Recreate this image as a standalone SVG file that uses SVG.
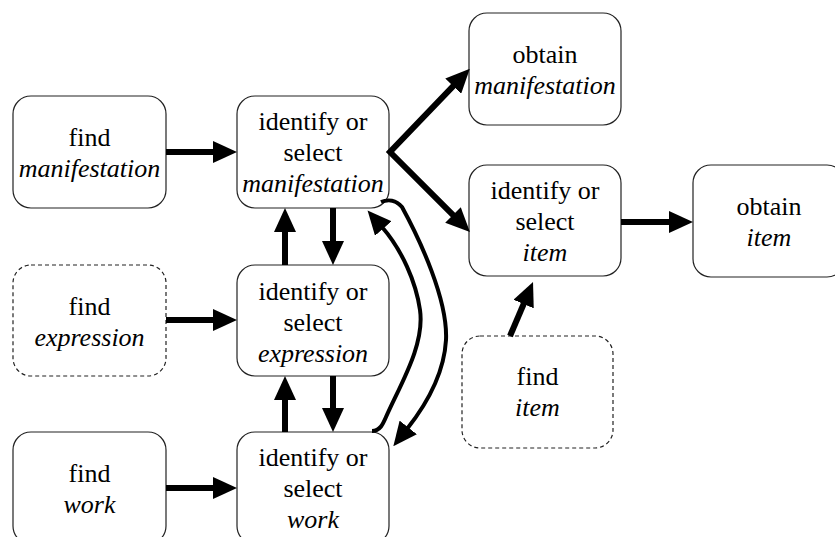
<svg xmlns="http://www.w3.org/2000/svg" width="835" height="537" viewBox="0 0 835 537">
  <defs>
    <style>
      .box { fill: #ffffff; stroke: #222222; stroke-width: 1.2; }
      .dash { stroke-dasharray: 4 3; }
      .lbl { font-family: "Liberation Serif", "Times New Roman", serif; font-size: 26px; fill: #000000; text-anchor: middle; }
      .it { font-style: italic; }
      .arrow { fill: none; stroke: #000000; stroke-width: 6; marker-end: url(#head); }
      .curve { fill: none; stroke: #000000; stroke-width: 4; stroke-linejoin: round; marker-end: url(#head); }
    </style>
    <!-- solid triangular arrowhead, fixed size regardless of stroke width -->
    <marker id="head" markerUnits="userSpaceOnUse" markerWidth="24" markerHeight="22" refX="2" refY="11" orient="auto-start-reverse">
      <path d="M0,0 L24,11 L0,22 Z" fill="#000000"/>
    </marker>
  </defs>

  <rect width="835" height="537" fill="#ffffff"/>

  <!-- left column: find tasks -->
  <g id="find-manifestation">
    <rect class="box" x="13" y="96" width="153" height="112" rx="18"/>
    <text class="lbl" x="89.5" y="146">find</text>
    <text class="lbl it" x="89.5" y="177">manifestation</text>
  </g>
  <g id="find-expression">
    <rect class="box dash" x="13" y="265" width="153" height="111" rx="18"/>
    <text class="lbl" x="89.5" y="315">find</text>
    <text class="lbl it" x="89.5" y="346">expression</text>
  </g>
  <g id="find-work">
    <rect class="box" x="13" y="432" width="153" height="112" rx="18"/>
    <text class="lbl" x="89.5" y="482">find</text>
    <text class="lbl it" x="89.5" y="513">work</text>
  </g>

  <!-- middle column: identify / select tasks -->
  <g id="select-manifestation">
    <rect class="box" x="237" y="96" width="152" height="112" rx="18"/>
    <text class="lbl" x="313" y="130">identify or</text>
    <text class="lbl" x="313" y="161">select</text>
    <text class="lbl it" x="313" y="192">manifestation</text>
  </g>
  <g id="select-expression">
    <rect class="box" x="237" y="265" width="152" height="111" rx="18"/>
    <text class="lbl" x="313" y="300">identify or</text>
    <text class="lbl" x="313" y="331">select</text>
    <text class="lbl it" x="313" y="362">expression</text>
  </g>
  <g id="select-work">
    <rect class="box" x="237" y="432" width="152" height="112" rx="18"/>
    <text class="lbl" x="313" y="466">identify or</text>
    <text class="lbl" x="313" y="497">select</text>
    <text class="lbl it" x="313" y="528">work</text>
  </g>

  <!-- right side: item and obtain tasks -->
  <g id="obtain-manifestation">
    <rect class="box" x="469" y="13" width="152" height="112" rx="18"/>
    <text class="lbl" x="545" y="63">obtain</text>
    <text class="lbl it" x="545" y="94">manifestation</text>
  </g>
  <g id="select-item">
    <rect class="box" x="469" y="165" width="152" height="111" rx="18"/>
    <text class="lbl" x="545" y="199">identify or</text>
    <text class="lbl" x="545" y="230">select</text>
    <text class="lbl it" x="545" y="261">item</text>
  </g>
  <g id="find-item">
    <rect class="box dash" x="462" y="336" width="151" height="112" rx="18"/>
    <text class="lbl" x="537.5" y="385">find</text>
    <text class="lbl it" x="537.5" y="416">item</text>
  </g>
  <g id="obtain-item">
    <rect class="box" x="693" y="165" width="152" height="112" rx="18"/>
    <text class="lbl" x="769" y="215">obtain</text>
    <text class="lbl it" x="769" y="246">item</text>
  </g>

  <!-- connectors -->
  <g id="connectors">
    <line class="arrow" x1="166" y1="152" x2="215" y2="152"/>
    <line class="arrow" x1="166" y1="320" x2="215" y2="320"/>
    <line class="arrow" x1="166" y1="488" x2="215" y2="488"/>
    <line class="arrow" x1="285" y1="265" x2="285" y2="230"/>
    <line class="arrow" x1="333" y1="208" x2="333" y2="243"/>
    <line class="arrow" x1="285" y1="432" x2="285" y2="398"/>
    <line class="arrow" x1="333" y1="376" x2="333" y2="410"/>
    <path class="arrow" style="marker-start: url(#head)" d="M454.6,84.7 L390,152 L454.4,216.4"/>
    <line class="arrow" x1="621" y1="222" x2="671" y2="222"/>
    <line class="arrow" x1="510" y1="336" x2="524.4" y2="302.2"/>
    <path class="curve" d="M372,431 C380,431 383,424 386,417 C400,385 425,345 420,310 C416,282 402,250 382,227"/>
    <path class="curve" d="M381,202 C388,199 396,200 402,207 C420,240 448,300 446,340 C444,375 426,405 407,429"/>
  </g>
</svg>
